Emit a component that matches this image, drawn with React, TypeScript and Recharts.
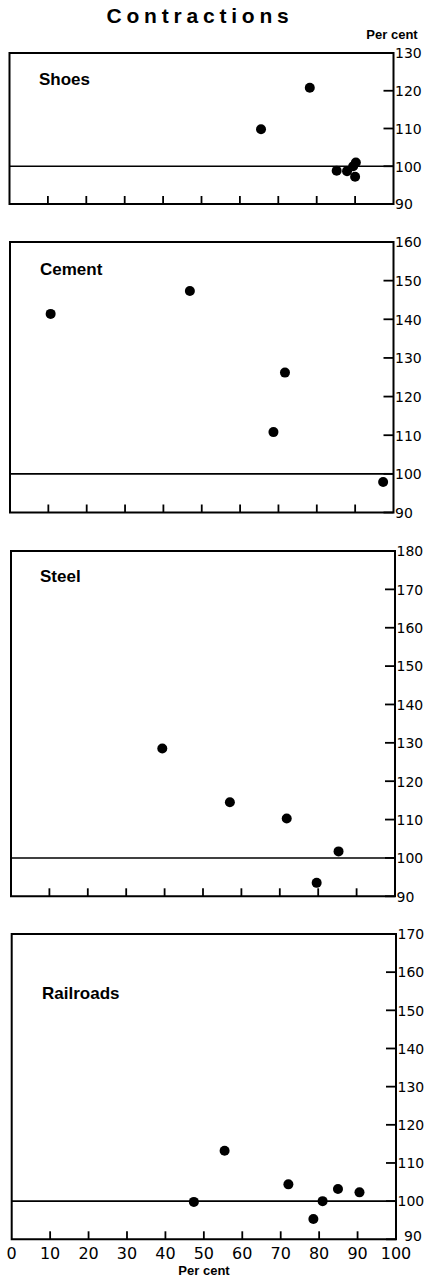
import React from 'react';
import { ScatterChart, Scatter, XAxis, YAxis, ReferenceLine, ReferenceArea } from 'recharts';

// ---- data ----
const xTicks = [0, 10, 20, 30, 40, 50, 60, 70, 80, 90, 100];

const shoesX = [65.5, 78.2, 85.2, 87.9, 89.5, 90.2, 90.0];
const shoesY = [109.8, 120.8, 98.8, 98.7, 100.0, 101.0, 97.2];
const shoesTicks = [90, 100, 110, 120, 130];

const cementX = [10.6, 46.9, 71.7, 68.7, 97.3];
const cementY = [141.4, 147.3, 126.2, 110.8, 97.9];
const cementTicks = [90, 100, 110, 120, 130, 140, 150, 160];

const steelX = [39.4, 57.0, 71.8, 85.3, 79.6];
const steelY = [128.5, 114.5, 110.3, 101.7, 93.5];
const steelTicks = [90, 100, 110, 120, 130, 140, 150, 160, 170, 180];

const railX = [47.4, 55.4, 72.0, 78.5, 80.9, 84.9, 90.5];
const railY = [99.8, 113.2, 104.4, 95.3, 100.0, 103.2, 102.3];
const railTicks = [90, 100, 110, 120, 130, 140, 150, 160, 170];

const FONT = '"Liberation Sans", Arial, sans-serif';
const NUMFONT = '"DejaVu Sans", sans-serif';
const M_TOP = 10;

type PanelProps = {
  name: string;
  xs: number[];
  ys: number[];
  yTicks: number[];
  left: number;
  right: number;
  top: number;
  bottom: number;
  xLabels: boolean;
};

function Panel({ xs, ys, yTicks, left, right, top, bottom, xLabels }: PanelProps) {
  const data = xs.map((x, i) => ({ x, y: ys[i] }));
  const yMin = yTicks[0];
  const yMax = yTicks[yTicks.length - 1];
  const xAxisH = xLabels ? 40 : 14;
  const height = bottom - top + M_TOP + xAxisH;

  const xTick = (p: any) => {
    const v = p.payload.value;
    return (
      <g>
        {v > 0 && v < 100 && (
          <line x1={p.x} x2={p.x} y1={p.y} y2={p.y - 8} stroke="#000" strokeWidth={1.8} />
        )}
        {xLabels && (
          <text x={p.x} y={p.y + 19.5} textAnchor="middle" fontFamily={NUMFONT} fontSize={16} fill="#000">
            {v}
          </text>
        )}
      </g>
    );
  };

  const rightTick = (p: any) => {
    const v = p.payload.value;
    const corner = xLabels && v === yMin;
    return (
      <g>
        <line x1={p.x - 10} x2={p.x} y1={p.y} y2={p.y} stroke="#000" strokeWidth={1.8} />
        <text
          x={p.x + (corner ? 8 : 1.5)}
          y={p.y + (corner ? -3.5 : 0)}
          dy="0.38em"
          textAnchor="start"
          fontFamily={NUMFONT}
          fontSize={14}
          fill="#000"
        >
          {v}
        </text>
      </g>
    );
  };

  const leftTick = (p: any) => (
    <line x1={p.x} x2={p.x + 11} y1={p.y} y2={p.y} stroke="#000" strokeWidth={1.8} />
  );

  return (
    <div style={{ position: 'absolute', left: 0, top: top - M_TOP, width: 430, height }}>
      <ScatterChart
        width={430}
        height={height}
        margin={{ top: M_TOP, right: 0, bottom: 0, left }}
      >
        <XAxis
          type="number"
          dataKey="x"
          domain={[0, 100]}
          ticks={xTicks}
          interval={0}
          axisLine={false}
          tickLine={false}
          tickSize={0}
          tickMargin={0}
          height={xAxisH}
          tick={xTick}
        />
        <YAxis
          yAxisId="l"
          orientation="left"
          type="number"
          dataKey="y"
          domain={[yMin, yMax]}
          allowDataOverflow
          ticks={yTicks}
          interval={0}
          width={0}
          axisLine={false}
          tickLine={false}
          tickSize={0}
          tickMargin={0}
          tick={leftTick}
        />
        <YAxis
          yAxisId="r"
          orientation="right"
          type="number"
          dataKey="y"
          domain={[yMin, yMax]}
          ticks={yTicks}
          interval={0}
          width={430 - right}
          axisLine={false}
          tickLine={false}
          tickSize={0}
          tickMargin={0}
          tick={rightTick}
        />
        <ReferenceArea
          yAxisId="r"
          x1={0}
          x2={100}
          y1={yMin}
          y2={yMax}
          stroke="#000"
          strokeWidth={2}
          fill="none"
          fillOpacity={0}
        />
        <ReferenceLine yAxisId="r" y={100} stroke="#000" strokeWidth={1.6} />
        <Scatter
          yAxisId="r"
          data={data}
          isAnimationActive={false}
          shape={(p: any) => <circle cx={p.cx} cy={p.cy} r={5} fill="#000" />}
        />
      </ScatterChart>
    </div>
  );
}

export default function App() {
  return (
    <div style={{ position: 'absolute', left: 0, top: 0, width: 430, height: 1280, background: '#fff' }}>
      <Panel name="Shoes" xs={shoesX} ys={shoesY} yTicks={shoesTicks} left={9.5} right={393.5} top={53} bottom={204} xLabels={false} />
      <Panel name="Cement" xs={cementX} ys={cementY} yTicks={cementTicks} left={10} right={393.5} top={242} bottom={512.5} xLabels={false} />
      <Panel name="Steel" xs={steelX} ys={steelY} yTicks={steelTicks} left={11} right={395} top={550.7} bottom={896} xLabels={false} />
      <Panel name="Railroads" xs={railX} ys={railY} yTicks={railTicks} left={11.7} right={396} top={934} bottom={1239.3} xLabels={true} />
      <svg width={430} height={1280} style={{ position: 'absolute', left: 0, top: 0, pointerEvents: 'none' }}>
        <text x={200} y={23} textAnchor="middle" fontFamily={FONT} fontWeight="bold" fontSize={21} letterSpacing={4.8} fill="#000">
          Contractions
        </text>
        <text x={392} y={39} textAnchor="middle" fontFamily={FONT} fontWeight="bold" fontSize={13} fill="#000">
          Per cent
        </text>
        <text x={39} y={85} fontFamily={FONT} fontWeight="bold" fontSize={17} fill="#000">Shoes</text>
        <text x={40} y={275} fontFamily={FONT} fontWeight="bold" fontSize={17} fill="#000">Cement</text>
        <text x={40} y={581.5} fontFamily={FONT} fontWeight="bold" fontSize={17} fill="#000">Steel</text>
        <text x={42} y={999} fontFamily={FONT} fontWeight="bold" fontSize={17} fill="#000">Railroads</text>
        <text x={204} y={1275} textAnchor="middle" fontFamily={FONT} fontWeight="bold" fontSize={13} fill="#000">
          Per cent
        </text>
      </svg>
    </div>
  );
}
